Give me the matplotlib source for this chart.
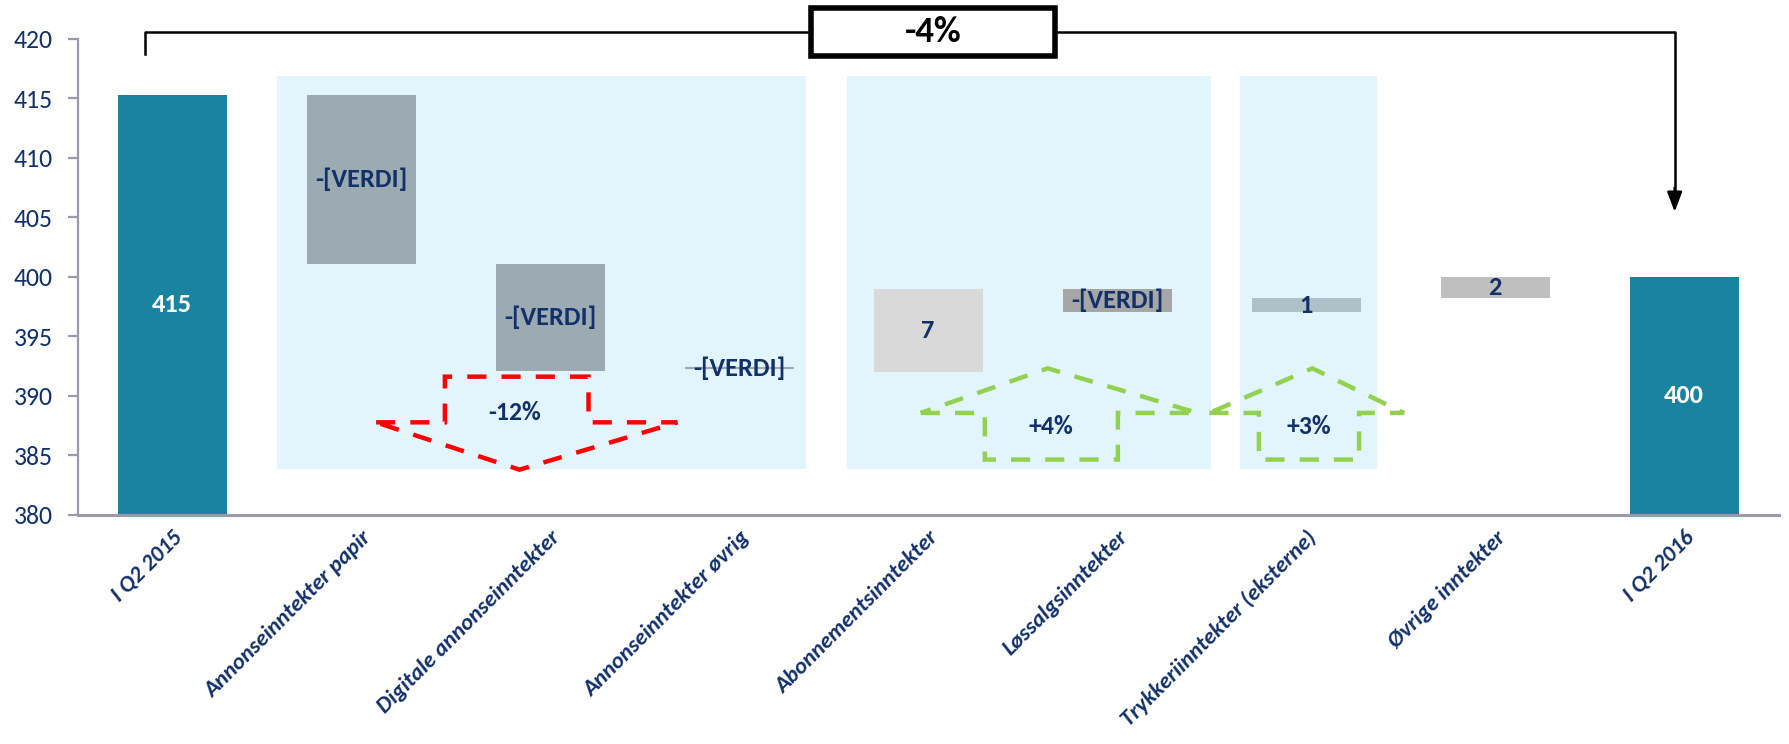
import matplotlib as mpl
import matplotlib.pyplot as plt
import numpy as np
from matplotlib import font_manager
from matplotlib.patches import Rectangle, Polygon


def pick_font(names):
    have = {f.name for f in font_manager.fontManager.ttflist}
    for n in names:
        if n in have:
            return n
    return 'DejaVu Sans'


FONT = pick_font(['Carlito', 'Lato', 'Open Sans'])
mpl.rcParams['font.family'] = [FONT, 'DejaVu Sans']
# Carlito has Calibri metrics; other fonts run a bit larger
K = 1.0 if FONT == 'Carlito' else 0.88

# data
categories = [
    'I Q2 2015', 'Annonseinntekter papir', 'Digitale annonseinntekter',
    'Annonseinntekter øvrig', 'Abonnementsinntekter', 'Løssalgsinntekter',
    'Trykkeriinntekter (eksterne)', 'Øvrige inntekter', 'I Q2 2016',
]
start_value = 415.3
deltas = [-14.2, -9.0, -0.1, 7.0, -2.0, 1.2, 1.8]
end_value = 400.0
bar_labels = ['415', '-[VERDI]', '-[VERDI]', '-[VERDI]', '7', '-[VERDI]', '1', '2', '400']
group_pct = ['-12%', '+4%', '+3%']
total_pct = '-4%'

TEAL = '#1a83a0'
NAVY = '#12306a'
delta_colors = ['#9babb1', '#9babb1', '#9babb1', '#d9d9d9', '#a6a6a6', '#afc1c8', '#bfbfbf']
BG = '#e3f5fc'
RED = '#ff0000'
GREEN = '#92d050'

# waterfall geometry
levels = np.concatenate([[start_value], start_value + np.cumsum(deltas)])
bottoms = [0.0]
heights = [start_value]
for i, d in enumerate(deltas):
    lo = min(levels[i], levels[i + 1])
    bottoms.append(lo)
    heights.append(abs(d))
bottoms.append(0.0)
heights.append(end_value)
colors = [TEAL] + delta_colors + [TEAL]
x = np.arange(len(categories))

fig = plt.figure(figsize=(17.89, 7.44), dpi=100)
ax = fig.add_axes([0.0434, 0.3083, 0.9508, 0.6394])
ax.set_xlim(-0.5, len(categories) - 0.5)
ax.set_ylim(380, 420)

# light blue group panels
for x0, x1 in [(0.555, 3.354), (3.57, 5.497), (5.65, 6.375)]:
    ax.add_patch(Rectangle((x0, 383.86), x1 - x0, 416.875 - 383.86,
                           facecolor=BG, edgecolor='none', zorder=0))

W = 0.577
for i in range(len(categories)):
    if i == 3:
        # near-zero change drawn as a thin line
        ax.hlines(levels[3] + 0.3, x[i] - W / 2, x[i] + W / 2, color=colors[i], lw=1.6, zorder=2)
        continue
    ax.bar(x[i], heights[i], bottom=bottoms[i], width=W, color=colors[i], zorder=2)

# bar labels
lab_fs = 19 * K
for i, lab in enumerate(bar_labels):
    if i in (0, len(categories) - 1):
        yc = (380 + heights[i]) / 2
        ax.text(x[i], yc, lab, color='white', fontsize=lab_fs, fontweight='bold',
                ha='center', va='center', zorder=4)
    elif i == 3:
        ax.text(x[i], levels[3] + 0.3, lab, color=NAVY, fontsize=lab_fs, fontweight='bold',
                ha='center', va='center', zorder=4)
    else:
        yc = bottoms[i] + heights[i] / 2
        ax.text(x[i], yc, lab, color=NAVY, fontsize=lab_fs, fontweight='bold',
                ha='center', va='center', zorder=4)

dash = dict(lw=3.2, linestyle=(0, (4.3, 3.4)), zorder=3, fill=False)

# down arrow (annonse)
red_pts = [(1.079, 387.76), (1.443, 387.76), (1.443, 391.6), (2.203, 391.6),
           (2.203, 387.76), (2.673, 387.76), (1.838, 383.78)]
ax.add_patch(Polygon(red_pts, closed=True, edgecolor=RED, **dash))
ax.text(1.81, 388.6, group_pct[0], color=NAVY, fontsize=18.5 * K, fontweight='bold',
        ha='center', va='center', zorder=4)

# up arrows
for (xl, s0, s1, xr, xa, lab) in [(3.961, 4.30, 5.004, 5.425, 4.633, group_pct[1]),
                                  (5.488, 5.75, 6.28, 6.518, 6.033, group_pct[2])]:
    pts = [(xl, 388.55), (s0, 388.55), (s0, 384.63), (s1, 384.63),
           (s1, 388.55), (xr, 388.55), (xa, 392.3)]
    ax.add_patch(Polygon(pts, closed=True, edgecolor=GREEN, **dash))
    ax.text((s0 + s1) / 2, 387.4, lab, color=NAVY, fontsize=18.5 * K, fontweight='bold',
            ha='center', va='center', zorder=4)

# total change bracket
ax.plot([-0.146, -0.146, 3.38], [418.7, 420.57, 420.57], color='black', lw=1.8,
        clip_on=False, zorder=5)
ax.plot([4.67, 7.95, 7.95], [420.57, 420.57, 407.0], color='black', lw=1.8,
        clip_on=False, zorder=5)
ax.annotate('', xy=(7.95, 405.45), xytext=(7.95, 407.5),
            arrowprops=dict(arrowstyle='-|>,head_length=1.2,head_width=0.45',
                            color='black', lw=1.8, shrinkA=0, shrinkB=0),
            annotation_clip=False, zorder=5)
ax.add_patch(Rectangle((3.38, 418.58), 4.67 - 3.38, 422.64 - 418.58, facecolor='white',
                       edgecolor='black', lw=4, clip_on=False, zorder=6))
ax.text(4.025, 420.6, total_pct, color='black', fontsize=26.5 * K, fontweight='bold',
        ha='center', va='center', zorder=7, clip_on=False)

# axes styling
for s in ['top', 'right']:
    ax.spines[s].set_visible(False)
ax.spines['left'].set_color('#9a9aaa')
ax.spines['left'].set_linewidth(1.6)
ax.spines['bottom'].set_color('#9a9aaa')
ax.spines['bottom'].set_linewidth(2.2)
ax.spines['bottom'].set_zorder(3)

ax.set_yticks(np.arange(380, 421, 5))
ax.tick_params(axis='y', colors='#9a9aaa', length=7, width=1.6, pad=11,
               labelsize=18.5 * K, labelcolor=NAVY)
ax.set_xticks(x)
ax.set_xticklabels(categories, rotation=45, ha='right', va='top',
                   rotation_mode='anchor', fontsize=16.6 * K, fontweight='bold',
                   fontstyle='italic', color=NAVY)
ax.tick_params(axis='x', length=0, pad=9)

plt.savefig('out.png', dpi=100)
plt.close()
